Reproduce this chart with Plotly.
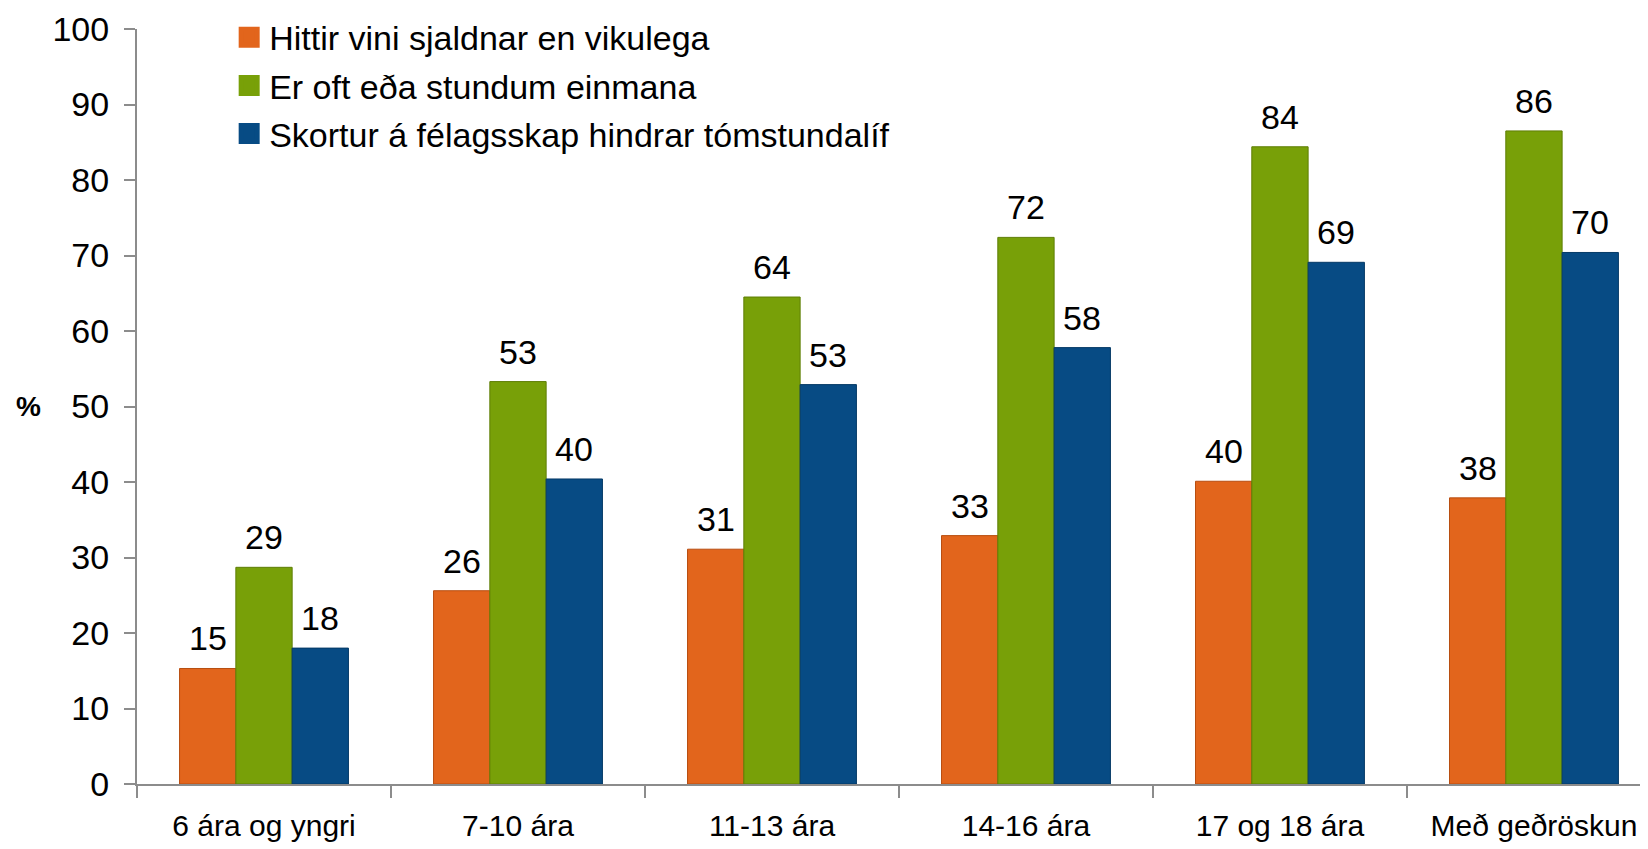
import plotly.graph_objects as go

categories = ["6 ára og yngri", "7-10 ára", "11-13 ára", "14-16 ára", "17 og 18 ára", "Með geðröskun"]
series_names = ["Hittir vini sjaldnar en vikulega", "Er oft eða stundum einmana", "Skortur á félagsskap hindrar tómstundalíf"]
hittir = [15.3, 25.6, 31.1, 32.9, 40.1, 37.9]
einmana = [28.7, 53.3, 64.5, 72.4, 84.4, 86.5]
skortur = [18.0, 40.4, 52.9, 57.8, 69.1, 70.4]
labels_hittir = ["15", "26", "31", "33", "40", "38"]
labels_einmana = ["29", "53", "64", "72", "84", "86"]
labels_skortur = ["18", "40", "53", "58", "69", "70"]
y_ticks = [0, 10, 20, 30, 40, 50, 60, 70, 80, 90, 100]

colors = ["#E2651C", "#78A008", "#074B84"]
edge = ["#B84E10", "#5E7E05", "#053A66"]
FONT = "Liberation Sans, Arial, sans-serif"

values = [hittir, einmana, skortur]
labels = [labels_hittir, labels_einmana, labels_skortur]

fig = go.Figure()
for i, name in enumerate(series_names):
    fig.add_trace(go.Bar(
        x=categories, y=values[i], name=name, showlegend=False,
        marker=dict(color=colors[i], line=dict(color=edge[i], width=1)),
    ))
    fig.add_trace(go.Scatter(
        x=[None], y=[None], mode="markers", name=name,
        marker=dict(symbol="square", size=22, color=colors[i], line=dict(color=colors[i], width=5)),
        legendgroup="g%d" % i,
    ))

BARGAP = 0.335
cat_px = 254.0
bar_px = cat_px * (1 - BARGAP) / 3
for i in range(3):
    shift = (i - 1) * bar_px
    for c, v, t in zip(categories, values[i], labels[i]):
        fig.add_annotation(x=c, y=v, text=t, showarrow=False, xref="x", yref="y",
                           yanchor="bottom", xanchor="center", xshift=shift, yshift=9,
                           font=dict(size=34, color="#000000", family=FONT))

fig.add_annotation(text="<b>%</b>", xref="paper", yref="paper", x=-0.072, y=0.5,
                   xanchor="center", yanchor="middle", showarrow=False,
                   font=dict(size=28, color="#000000", family=FONT))

fig.update_layout(
    width=1640, height=841,
    margin=dict(l=129, r=0, t=21, b=65, pad=0),
    paper_bgcolor="white", plot_bgcolor="white",
    barmode="group", bargap=BARGAP, bargroupgap=0,
    font=dict(family=FONT, size=34, color="#000000"),
    legend=dict(x=0.061, y=1.027, xanchor="left", yanchor="top",
                font=dict(size=34, family=FONT), tracegroupgap=1,
                itemsizing="trace", bgcolor="rgba(0,0,0,0)"),
    xaxis=dict(range=[-0.5, 5.449], showgrid=False, showline=True, linecolor="#8C8C8C",
               linewidth=2, ticks="outside", tickson="boundaries", ticklen=12,
               tickcolor="#8C8C8C", tickwidth=2, tickfont=dict(size=30, family=FONT),
               ticklabelstandoff=14),
    yaxis=dict(range=[0, 100], tickvals=y_ticks, showgrid=False, showline=True,
               linecolor="#8C8C8C", linewidth=2, ticks="outside", ticklen=11,
               tickcolor="#8C8C8C", tickwidth=2, zeroline=False,
               tickfont=dict(size=34, family=FONT), ticklabelstandoff=8),
)

fig.write_html("out.html")
